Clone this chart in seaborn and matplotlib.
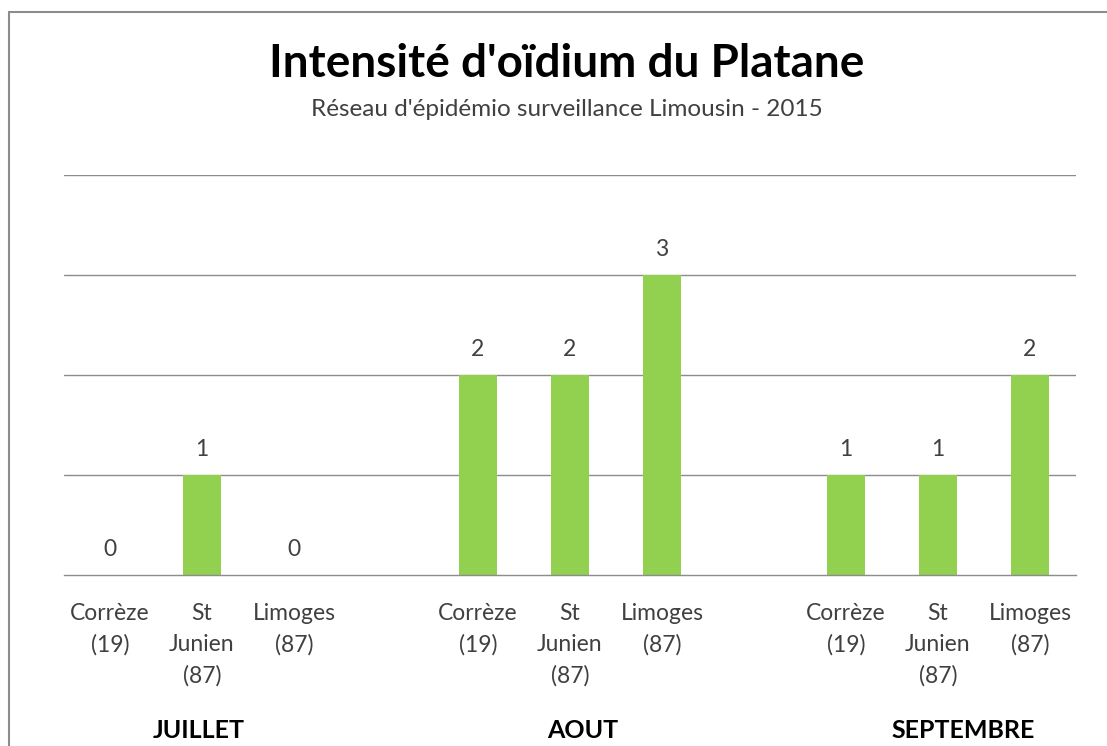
import numpy as np
import pandas as pd
import matplotlib.pyplot as plt
from matplotlib.lines import Line2D
import seaborn as sns

# data
months = ['JUILLET', 'AOUT', 'SEPTEMBRE']
sites = ['Corrèze\n(19)', 'St\nJunien\n(87)', 'Limoges\n(87)']
values = {
    'JUILLET': [0, 1, 0],
    'AOUT': [2, 2, 3],
    'SEPTEMBRE': [1, 1, 2],
}

# build 11 slots: 3 sites per month, one blank slot between months
slot_ids, slot_labels, slot_vals = [], [], []
for m_i, m in enumerate(months):
    for s_i, s in enumerate(sites):
        slot_ids.append(f'{m}_{s_i}')
        slot_labels.append(s)
        slot_vals.append(values[m][s_i])
    if m_i < len(months) - 1:
        slot_ids.append(f'blank_{m_i}')
        slot_labels.append('')
        slot_vals.append(np.nan)
df = pd.DataFrame({'slot': slot_ids, 'val': slot_vals})

sns.set_style('white')
plt.rcParams['font.family'] = ['Lato', 'DejaVu Sans']

fig = plt.figure(figsize=(11.07, 7.46), dpi=100)
ax = fig.add_axes([64 / 1107, 1 - 575 / 746, (1076 - 64) / 1107, 400 / 746])

sns.barplot(data=df, x='slot', y='val', order=slot_ids, color='#92D050',
            width=0.42, saturation=1, linewidth=0, ax=ax)

ax.set_ylim(0, 4)
ax.set_xlim(-0.5, len(slot_ids) - 0.5)
ax.set_yticks([1, 2, 3, 4])
ax.yaxis.grid(True, color='#8c8c8c', linewidth=1)
ax.set_axisbelow(True)
ax.tick_params(axis='y', left=False, labelleft=False)
for sp in ['top', 'right', 'left']:
    ax.spines[sp].set_visible(False)
ax.spines['bottom'].set_color('#8c8c8c')
ax.spines['bottom'].set_linewidth(1)
ax.set_xlabel('')
ax.set_ylabel('')

# category labels centred, tick marks at slot boundaries
ax.set_xticks(range(len(slot_ids)))
ax.set_xticklabels(slot_labels, fontsize=16.5, color='#404040', va='top',
                   linespacing=1.6)
ax.tick_params(axis='x', which='major', length=0, pad=20)
ax.set_xticks(np.arange(-0.5, len(slot_ids)), minor=True)
ax.tick_params(axis='x', which='minor', length=8, color='#8c8c8c', width=1)

# value labels
for i, v in enumerate(slot_vals):
    if not np.isnan(v):
        ax.text(i, v + 0.15, f'{int(v)}', ha='center', va='bottom',
                fontsize=16.5, color='#404040')

# month labels
month_x = [0.97, 5.14, 9.27]
for mx, m in zip(month_x, months):
    ax.text(mx, -1.55, m, ha='center', va='center', fontsize=18,
            fontweight='bold', color='black')

fig.text(0.512, 1 - 64 / 746, "Intensité d'oïdium du Platane", ha='center',
         va='center', fontsize=33, fontweight='bold', color='black')
fig.text(0.512, 1 - 110 / 746, "Réseau d'épidémio surveillance Limousin - 2015",
         ha='center', va='center', fontsize=17.5, color='#404040')

# chart frame (top and left edges visible)
fig.add_artist(Line2D([9 / 1107, 9 / 1107], [0, 1 - 12 / 746],
                      color='#8c8c8c', linewidth=1.5))
fig.add_artist(Line2D([9 / 1107, 1], [1 - 12 / 746, 1 - 12 / 746],
                      color='#8c8c8c', linewidth=1.5))

fig.savefig('out.png', dpi=100)
